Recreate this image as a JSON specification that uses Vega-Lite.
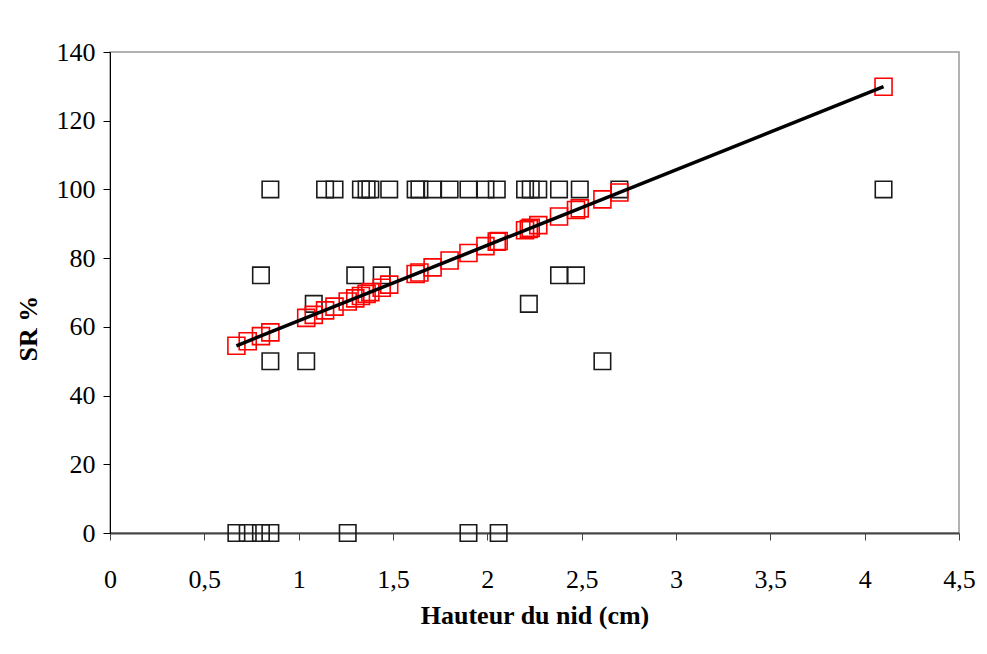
{
  "$schema": "https://vega.github.io/schema/vega-lite/v6.json",
  "width": 849,
  "height": 481,
  "autosize": {"type": "none"},
  "padding": {"left": 110, "top": 52, "right": 28, "bottom": 121},
  "background": "white",
  "config": {
    "view": {"stroke": "#999999", "strokeWidth": 1.5},
    "font": "Liberation Serif"
  },
  "datasets": {
    "obs": [
      {"x": 0.67, "sr": 0}, {"x": 0.73, "sr": 0}, {"x": 0.80, "sr": 0}, {"x": 0.85, "sr": 0},
      {"x": 1.26, "sr": 0}, {"x": 1.90, "sr": 0}, {"x": 2.06, "sr": 0},
      {"x": 0.85, "sr": 50}, {"x": 1.04, "sr": 50}, {"x": 2.61, "sr": 50},
      {"x": 1.08, "sr": 66.7}, {"x": 2.22, "sr": 66.7},
      {"x": 0.80, "sr": 75}, {"x": 1.30, "sr": 75}, {"x": 1.44, "sr": 75}, {"x": 2.38, "sr": 75}, {"x": 2.47, "sr": 75},
      {"x": 0.85, "sr": 100}, {"x": 1.14, "sr": 100}, {"x": 1.19, "sr": 100}, {"x": 1.33, "sr": 100},
      {"x": 1.36, "sr": 100}, {"x": 1.38, "sr": 100}, {"x": 1.48, "sr": 100}, {"x": 1.62, "sr": 100},
      {"x": 1.64, "sr": 100}, {"x": 1.71, "sr": 100}, {"x": 1.80, "sr": 100}, {"x": 1.90, "sr": 100},
      {"x": 1.99, "sr": 100}, {"x": 2.05, "sr": 100}, {"x": 2.20, "sr": 100}, {"x": 2.23, "sr": 100},
      {"x": 2.27, "sr": 100}, {"x": 2.38, "sr": 100}, {"x": 2.49, "sr": 100}, {"x": 2.70, "sr": 100},
      {"x": 4.10, "sr": 100}
    ],
    "fit": [
      {"x": 0.67, "sr": 54.5}, {"x": 0.73, "sr": 55.8}, {"x": 0.80, "sr": 57.3}, {"x": 0.85, "sr": 58.4},
      {"x": 1.04, "sr": 62.6}, {"x": 1.08, "sr": 63.5}, {"x": 1.14, "sr": 64.8}, {"x": 1.19, "sr": 65.9},
      {"x": 1.26, "sr": 67.4}, {"x": 1.30, "sr": 68.3}, {"x": 1.33, "sr": 69.0}, {"x": 1.36, "sr": 69.6},
      {"x": 1.38, "sr": 70.1}, {"x": 1.44, "sr": 71.4}, {"x": 1.48, "sr": 72.3}, {"x": 1.62, "sr": 75.4},
      {"x": 1.64, "sr": 75.8}, {"x": 1.71, "sr": 77.3}, {"x": 1.80, "sr": 79.3}, {"x": 1.90, "sr": 81.5},
      {"x": 1.99, "sr": 83.5}, {"x": 2.05, "sr": 84.8}, {"x": 2.06, "sr": 85.0}, {"x": 2.20, "sr": 88.1},
      {"x": 2.22, "sr": 88.5}, {"x": 2.23, "sr": 88.8}, {"x": 2.27, "sr": 89.6}, {"x": 2.38, "sr": 92.1},
      {"x": 2.47, "sr": 94.0}, {"x": 2.49, "sr": 94.5}, {"x": 2.61, "sr": 97.1}, {"x": 2.70, "sr": 99.1},
      {"x": 4.10, "sr": 129.9}
    ],
    "trend": [
      {"x": 0.67, "sr": 54.5}, {"x": 4.10, "sr": 129.9}
    ]
  },
  "encoding": {
    "x": {
      "field": "x", "type": "quantitative",
      "scale": {"domain": [0, 4.5], "nice": false, "zero": false},
      "axis": {
        "title": "Hauteur du nid (cm)",
        "values": [0, 0.5, 1, 1.5, 2, 2.5, 3, 3.5, 4, 4.5],
        "format": "~g",
        "labelExpr": "replace(datum.label, '.', ',')",
        "grid": false,
        "domainColor": "#444444", "domainWidth": 2,
        "tickColor": "#444444", "tickSize": 7, "tickWidth": 1,
        "labelFont": "Liberation Serif", "labelFontSize": 26, "labelColor": "black",
        "labelPadding": 26, "labelBaseline": "top", "labelFlush": false,
        "titleFont": "Liberation Serif", "titleFontSize": 26, "titleFontWeight": "bold", "titleColor": "black",
        "titleY": 82, "titleBaseline": "middle"
      }
    },
    "y": {
      "field": "sr", "type": "quantitative",
      "scale": {"domain": [0, 140], "nice": false},
      "axis": {
        "title": "SR %",
        "values": [0, 20, 40, 60, 80, 100, 120, 140],
        "grid": false,
        "domainColor": "black", "domainWidth": 1,
        "tickColor": "black", "tickSize": 7, "tickWidth": 1,
        "labelFont": "Liberation Serif", "labelFontSize": 26, "labelColor": "black",
        "labelPadding": 8, "labelFlush": false,
        "titleFont": "Liberation Serif", "titleFontSize": 26, "titleFontWeight": "bold", "titleColor": "black",
        "titleX": -82, "titleY": 276, "titleAngle": -90, "titleBaseline": "middle", "titleAlign": "center"
      }
    }
  },
  "layer": [
    {
      "data": {"name": "obs"},
      "mark": {"type": "point", "shape": "square", "size": 272, "filled": false, "stroke": "#1a1a1a", "strokeWidth": 1.6, "opacity": 1}
    },
    {
      "data": {"name": "fit"},
      "mark": {"type": "point", "shape": "square", "size": 289, "filled": false, "stroke": "#ff0000", "strokeWidth": 1.6, "opacity": 1}
    },
    {
      "data": {"name": "trend"},
      "mark": {"type": "line", "color": "black", "strokeWidth": 3.5}
    }
  ]
}
